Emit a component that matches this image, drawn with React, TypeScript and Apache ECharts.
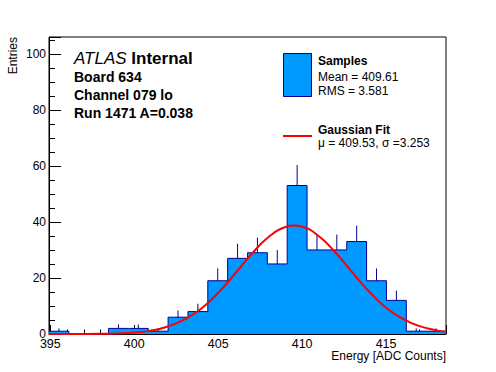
import React, { useEffect, useRef } from 'react';
import * as echarts from 'echarts';

// Histogram range and bin contents (20 equal bins)
const histMin = 394.92;
const histMax = 418.57;
const counts = [1, 0, 0, 2, 2, 1, 6, 8, 19, 27, 29, 25, 53, 30, 30, 33, 19, 12, 1, 1];
const errors = [1, 0, 0, 1.4, 1.4, 1, 2.4, 2.8, 4.4, 5.2, 5.4, 5, 7.3, 5.5, 5.5, 5.7, 4.4, 3.5, 1, 1];

// Gaussian fit curve
const fitX = [394.92, 395, 396, 397, 398, 399, 400, 401, 402, 403, 404, 405, 406, 407, 408, 409, 409.5, 410, 411, 412, 413, 414, 415, 416, 417, 418, 418.57];
const fitY = [0, 0, 0.01, 0.02, 0.07, 0.2, 0.5, 1.2, 2.7, 5.2, 9.1, 14.7, 21.5, 28.6, 34.6, 38.2, 38.7, 38.3, 34.9, 29.0, 21.9, 15.1, 9.4, 5.4, 2.8, 1.3, 0.8];

const xTickLabels = ['395', '400', '405', '410', '415'];
const yTickLabels = ['0', '20', '40', '60', '80', '100'];

const FONT = '"Liberation Sans", Arial, Helvetica, sans-serif';

export default function App() {
  const ref = useRef<HTMLDivElement>(null);

  useEffect(() => {
    const chart = echarts.init(ref.current!, null, { renderer: 'svg' });
    const binW = (histMax - histMin) / counts.length;
    const stepData: number[][] = counts.map((c, i) => [histMin + i * binW, c]);
    stepData.push([histMax, counts[counts.length - 1]]);
    const errData = counts
      .map((c, i) => [histMin + (i + 0.5) * binW, c, errors[i]])
      .filter((d) => d[1] > 0);
    const fitData = fitX.map((x, i) => [x, fitY[i]]);

    const fmt = (list: string[]) => (v: number) => {
      const s = String(Math.round(v * 1000) / 1000);
      return list.includes(s) ? s : '';
    };

    const txt = (x: number, y: number, text: string, extra: any = {}) => ({
      type: 'text',
      x,
      y,
      silent: true,
      style: {
        text,
        fill: '#000',
        fontFamily: FONT,
        fontSize: 12,
        verticalAlign: 'middle',
        align: 'left',
        ...extra,
      },
    });

    chart.setOption({
      animation: false,
      backgroundColor: '#fff',
      grid: {
        left: 49,
        top: 37,
        right: 50,
        bottom: 38,
        show: true,
        borderColor: '#000',
        borderWidth: 1,
        backgroundColor: 'transparent',
      },
      xAxis: {
        type: 'value',
        min: histMin,
        max: histMax,
        minInterval: 5,
        maxInterval: 5,
        axisLine: { show: true, lineStyle: { color: '#000', width: 1 } },
        axisTick: { show: true, inside: true, length: 9, lineStyle: { color: '#000', width: 1 } },
        minorTick: { show: true, splitNumber: 5, length: 4.5, lineStyle: { color: '#000', width: 1 } },
        splitLine: { show: false },
        axisLabel: {
          margin: 3,
          color: '#000',
          fontSize: 12.5,
          fontFamily: FONT,
          formatter: fmt(xTickLabels),
        },
      },
      yAxis: {
        type: 'value',
        min: 0,
        max: 106,
        minInterval: 20,
        maxInterval: 20,
        axisLine: { show: true, lineStyle: { color: '#000', width: 1 } },
        axisTick: { show: true, inside: true, length: 12, lineStyle: { color: '#000', width: 1 } },
        minorTick: { show: true, splitNumber: 4, length: 6, lineStyle: { color: '#000', width: 1 } },
        splitLine: { show: false },
        axisLabel: {
          margin: 3,
          color: '#000',
          fontSize: 12,
          fontFamily: FONT,
          formatter: fmt(yTickLabels),
        },
      },
      series: [
        {
          type: 'line',
          step: 'end',
          data: stepData,
          symbol: 'none',
          lineStyle: { color: '#000099', width: 1 },
          areaStyle: { color: '#0099ff', opacity: 1 },
          z: 2,
        },
        {
          type: 'custom',
          data: errData,
          encode: { x: 0, y: 1 },
          renderItem: (params: any, api: any) => {
            const x = api.value(0);
            const y = api.value(1);
            const e = api.value(2);
            const p0 = api.coord([x, y]);
            const p1 = api.coord([x, y + e]);
            return {
              type: 'line',
              shape: { x1: p0[0], y1: p0[1], x2: p1[0], y2: p1[1] },
              style: { stroke: '#000099', lineWidth: 1 },
            };
          },
          z: 3,
        },
        {
          type: 'line',
          data: fitData,
          smooth: true,
          symbol: 'none',
          lineStyle: { color: '#ff0000', width: 2 },
          z: 4,
        },
      ],
      graphic: [
        {
          type: 'text',
          x: 74,
          y: 58,
          silent: true,
          style: {
            text: '{a|ATLAS} {b|Internal}',
            fill: '#000',
            fontFamily: FONT,
            fontSize: 17,
            verticalAlign: 'middle',
            align: 'left',
            rich: {
              a: { fontStyle: 'italic', fontSize: 17, fontFamily: FONT, fill: '#000' },
              b: { fontWeight: 'bold', fontSize: 17, fontFamily: FONT, fill: '#000' },
            },
          },
        },
        txt(74, 76.7, 'Board 634', { fontWeight: 'bold', fontSize: 14 }),
        txt(74, 94.7, 'Channel 079 lo', { fontWeight: 'bold', fontSize: 14 }),
        txt(74, 113, 'Run 1471 A=0.038', { fontWeight: 'bold', fontSize: 14 }),
        {
          type: 'rect',
          silent: true,
          shape: { x: 283.5, y: 53.5, width: 28, height: 43 },
          style: { fill: '#0099ff', stroke: '#000099', lineWidth: 1 },
        },
        {
          type: 'line',
          silent: true,
          shape: { x1: 283, y1: 136, x2: 312, y2: 136 },
          style: { stroke: '#ff0000', lineWidth: 2 },
        },
        txt(318, 61, 'Samples', { fontWeight: 'bold' }),
        txt(318, 77, 'Mean = 409.61'),
        txt(318, 90.5, 'RMS = 3.581'),
        txt(318, 130, 'Gaussian Fit', { fontWeight: 'bold' }),
        txt(318, 142.5, 'μ = 409.53, σ =3.253'),
        {
          type: 'text',
          x: 13,
          y: 37,
          rotation: Math.PI / 2,
          silent: true,
          style: {
            text: 'Entries',
            fill: '#000',
            fontFamily: FONT,
            fontSize: 12,
            align: 'right',
            verticalAlign: 'middle',
          },
        },
        txt(446, 356, 'Energy [ADC Counts]', { align: 'right' }),
      ],
    });

    return () => {
      chart.dispose();
    };
  }, []);

  return (
    <div
      ref={ref}
      style={{ position: 'fixed', left: 0, top: 0, width: 496, height: 372, background: '#fff' }}
    />
  );
}
